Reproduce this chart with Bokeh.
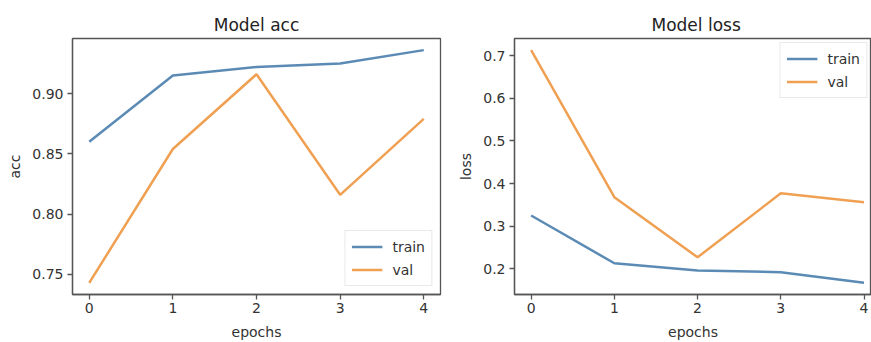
from bokeh.plotting import figure
from bokeh.layouts import row
from bokeh.models import Range1d, FixedTicker, NumeralTickFormatter
from bokeh.embed import file_html
from bokeh.resources import INLINE

epochs = [0, 1, 2, 3, 4]
acc_train = [0.860, 0.915, 0.922, 0.925, 0.936]
acc_val = [0.743, 0.854, 0.916, 0.816, 0.879]
loss_train = [0.325, 0.213, 0.196, 0.192, 0.167]
loss_val = [0.713, 0.368, 0.227, 0.377, 0.356]

acc_ticks = [0.75, 0.80, 0.85, 0.90]
loss_ticks = [0.2, 0.3, 0.4, 0.5, 0.6, 0.7]
x_ticks = [0, 1, 2, 3, 4]

BLUE = "#5b8bb5"
ORANGE = "#f0a052"
FONT = "DejaVu Sans"
FRAME = "#555555"
TEXT = "#333333"


def pad_range(a, b, frac=0.05):
    lo = min(min(a), min(b))
    hi = max(max(a), max(b))
    m = (hi - lo) * frac
    return lo - m, hi + m


def make_fig(title, ylabel, ytr, yva, yticks, yfmt, width, mbl, mbr, x_end, leg_loc, leg_margin):
    y0, y1 = pad_range(ytr, yva)
    p = figure(width=width, height=342, output_backend="svg", toolbar_location=None,
               x_range=Range1d(-0.2, x_end), y_range=Range1d(y0, y1),
               min_border_left=mbl, min_border_right=mbr, min_border_top=38,
               min_border_bottom=48)
    p.title.text = title
    p.title.text_font = FONT
    p.title.text_font_size = "17px"
    p.title.text_font_style = "normal"
    p.title.text_color = "#222222"
    p.title.standoff = 8
    p.xgrid.visible = False
    p.ygrid.visible = False
    p.outline_line_color = FRAME
    p.outline_line_width = 1.3
    p.outline_line_alpha = 1.0
    p.background_fill_color = "white"
    p.border_fill_color = "white"

    p.line(epochs, ytr, line_color=BLUE, line_width=2.5, legend_label="train")
    p.line(epochs, yva, line_color=ORANGE, line_width=2.5, legend_label="val")

    for ax in (p.xaxis[0], p.yaxis[0]):
        ax.axis_line_color = FRAME
        ax.axis_line_width = 1.3
        ax.major_tick_line_color = FRAME
        ax.major_tick_line_width = 1.3
        ax.major_tick_in = 0
        ax.major_tick_out = 5
        ax.minor_tick_line_color = None
        ax.major_label_text_font = FONT
        ax.major_label_text_font_size = "14px"
        ax.major_label_text_color = TEXT
        ax.axis_label_text_font = FONT
        ax.axis_label_text_font_size = "14px"
        ax.axis_label_text_font_style = "normal"
        ax.axis_label_text_color = TEXT

    p.xaxis.ticker = FixedTicker(ticks=x_ticks)
    p.xaxis.axis_label = "epochs"
    p.xaxis.major_label_standoff = 3
    p.xaxis.axis_label_standoff = 8
    p.yaxis.ticker = FixedTicker(ticks=yticks)
    p.yaxis.formatter = NumeralTickFormatter(format=yfmt)
    p.yaxis.axis_label = ylabel
    p.yaxis.major_label_standoff = 4
    p.yaxis.axis_label_standoff = 6

    lg = p.legend[0]
    lg.location = leg_loc
    lg.margin = leg_margin
    lg.label_text_font = FONT
    lg.label_text_font_size = "14px"
    lg.label_text_color = TEXT
    lg.glyph_width = 31
    lg.glyph_height = 19
    lg.label_height = 19
    lg.label_standoff = 10
    lg.spacing = 4
    lg.padding = 6
    lg.border_line_color = "#d4d4d4"
    lg.border_line_width = 1
    lg.background_fill_alpha = 0.85
    return p


p1 = make_fig("Model acc", "acc", acc_train, acc_val, acc_ticks, "0.00",
              width=455, mbl=72, mbr=15, x_end=4.2, leg_loc="bottom_right", leg_margin=8)
p1.title.align = "center"

p2 = make_fig("Model loss", "loss", loss_train, loss_val, loss_ticks, "0.0",
              width=416, mbl=55, mbr=0, x_end=4.09, leg_loc="top_right", leg_margin=4)
p2.title.align = "left"
p2.title.offset = 137

layout = row(p1, p2)

open("out.html", "w").write(file_html(layout, INLINE))
